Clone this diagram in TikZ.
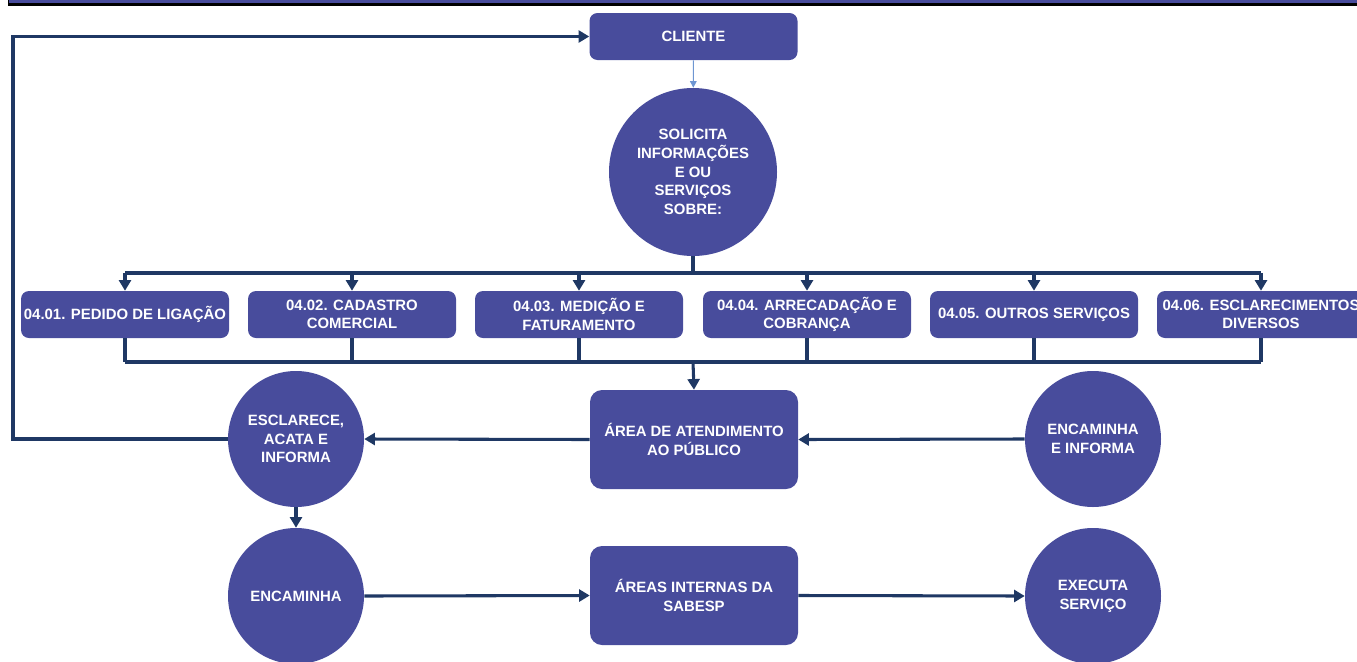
\documentclass[tikz,border=0pt]{standalone}
\usepackage{fontspec}
\setmainfont{Liberation Sans}
\usetikzlibrary{arrows.meta}
\definecolor{boxfill}{RGB}{72,76,156}
\definecolor{linec}{RGB}{31,56,100}
\definecolor{thinc}{RGB}{110,150,210}
\begin{document}
\begin{tikzpicture}[x=0.75pt,y=-0.75pt,
  txt/.style={text=white,font=\bfseries\fontsize{11.2}{14}\selectfont,align=center,inner sep=0pt},
  box/.style={txt,fill=boxfill,rounded corners=6pt,minimum width=156pt,minimum height=35.25pt},
  bigbox/.style={txt,fill=boxfill,rounded corners=9pt,minimum width=156pt,minimum height=74.25pt},
  circ/.style={txt,circle,fill=boxfill,minimum size=102pt},
  conn/.style={draw=linec,line width=2.3pt},
  arr/.style={conn,-{Triangle[length=8pt,width=9pt]}},
  thinarr/.style={draw=thinc,line width=0.8pt,-{Triangle[length=5pt,width=5pt]}}
]
\useasboundingbox (0,0) rectangle (1357,661);
\clip (0,0) rectangle (1357,661);
% top band
\fill[boxfill] (8,-2) rectangle (1360,3.5);
\draw[black,line width=1.6pt] (8,4.5) -- (1360,4.5);
\draw[black,line width=1.2pt] (8.5,-2) -- (8.5,5);

% nodes
\node[box,minimum height=35.25pt] (cli) at (693.5,36.5) {CLIENTE};
\node[txt,circle,fill=boxfill,minimum size=126pt] (sol) at (693,172) {SOLICITA\\INFORMAÇÕES\\E OU\\SERVIÇOS\\SOBRE:};

\node[box] (b1) at (125,314.5) {04.01. PEDIDO DE LIGAÇÃO};
\node[box] (b2) at (352,314.5) {04.02. CADASTRO\\COMERCIAL};
\node[box] (b3) at (579,314.5) {04.03. MEDIÇÃO E\\FATURAMENTO};
\node[box] (b4) at (807,314.5) {04.04. ARRECADAÇÃO E\\COBRANÇA};
\node[box] (b5) at (1034,314.5) {04.05. OUTROS SERVIÇOS};
\node[box] (b6) at (1261,314.5) {04.06. ESCLARECIMENTOS\\DIVERSOS};

\node[bigbox] (area) at (694,439.5) {ÁREA DE ATENDIMENTO\\AO PÚBLICO};
\node[circ] (esc) at (296,439) {ESCLARECE,\\ACATA E\\INFORMA};
\node[circ] (encinf) at (1093,439) {ENCAMINHA\\E INFORMA};

\node[circ] (enc) at (296,596) {ENCAMINHA};
\node[bigbox] (int) at (694,595.5) {ÁREAS INTERNAS DA\\SABESP};
\node[circ] (exe) at (1093,596) {EXECUTA\\SERVIÇO};

\coordinate (top) at (693,273);
\coordinate (bot) at (693,362);
\coordinate (lp) at (13,439);

% connectors
\draw[thinarr] (cli) -- (sol);
\draw[conn] (sol) -- (top);
\draw[conn] (b1.north |- top) -- (b6.north |- top);
\foreach \b in {b1,b2,b3,b4,b5,b6}{
  \draw[arr] (\b.north |- top) -- (\b.north);
  \draw[conn] (\b.south) -- (\b.south |- bot);
}
\draw[conn] (b1.south |- bot) -- (b6.south |- bot);
\draw[arr] (bot) -- (area.north);
\draw[arr] (area.west) -- (esc.east);
\draw[arr] (encinf.west) -- (area.east);
\draw[arr] (esc.west) -- (lp) |- (cli.west);
\draw[arr] (esc.south) -- (enc.north);
\draw[arr] (enc.east) -- (int.west);
\draw[arr] (int.east) -- (exe.west);
\end{tikzpicture}
\end{document}
